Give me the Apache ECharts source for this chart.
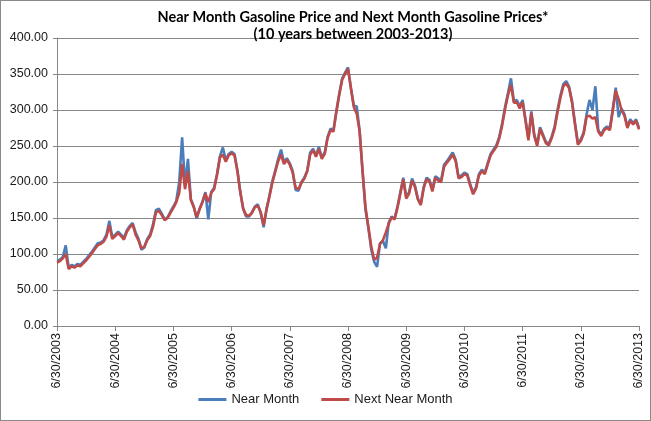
<!DOCTYPE html>
<html>
<head>
<meta charset="utf-8">
<script src="https://cdn.jsdelivr.net/npm/echarts@6/dist/echarts.min.js"></script>
<style>
  html, body { margin: 0; padding: 0; background: #fff; }
  #chart { width: 649px; height: 419px; border: 1px solid #8a8a8a; }
</style>
</head>
<body>
<div id="chart"></div>
<script>
// Sampling step between points, in months (points run from 6/30/2003 to 6/30/2013)
const STEP_MONTHS = 0.6;

const tickLabels = ['6/30/2003','6/30/2004','6/30/2005','6/30/2006','6/30/2007','6/30/2008',
                    '6/30/2009','6/30/2010','6/30/2011','6/30/2012','6/30/2013'];

const seriesNames = ['Near Month', 'Next Near Month'];

const nearMonth = [
  91,92,96,112,81,85,83,86,85,89,93,98,103,109,115,116,119,127,146,123,
  127,131,127,122,133,139,143,130,121,106,109,121,127,141,161,163,156,148,151,159,
  166,174,200,262,195,232,176,166,149,163,173,186,148,186,192,211,236,248,230,239,
  242,239,216,185,162,152,152,158,166,169,157,137,163,181,201,216,232,245,227,233,
  226,215,189,188,200,206,216,241,246,237,249,234,241,263,274,272,299,323,344,352,
  359,331,306,305,271,214,162,136,106,89,82,115,118,108,144,152,149,166,186,206,
  179,186,205,195,177,169,193,206,203,189,208,205,202,224,229,235,241,231,207,209,
  213,211,197,185,193,211,217,213,226,239,245,251,263,282,305,324,344,312,314,305,
  314,287,260,298,266,252,276,266,256,253,263,277,300,320,336,340,332,312,282,254,
  259,269,294,314,300,333,272,266,274,277,275,302,331,290,302,294,277,287,282,287,275
];

const nextNearMonth = [
  88,90,94,100,79,83,81,84,83,87,91,96,101,107,112,114,117,124,140,121,
  125,129,125,120,131,137,141,127,119,108,110,119,125,138,158,160,154,147,150,157,
  164,172,185,225,190,215,175,165,151,162,172,184,172,185,190,210,234,238,228,237,
  240,237,215,186,163,154,153,157,165,167,158,140,161,180,199,214,229,238,225,231,
  224,213,192,190,199,205,215,238,244,235,246,232,239,261,272,270,297,321,342,350,
  357,330,304,295,270,216,165,138,110,92,95,114,119,130,142,151,148,164,184,204,
  177,184,202,193,176,168,191,204,201,187,206,202,200,221,227,232,238,229,205,207,
  211,209,195,183,191,209,215,211,224,237,243,249,261,279,302,321,335,310,311,302,
  311,285,258,296,264,250,274,264,254,251,261,274,297,317,333,337,330,310,280,252,
  257,267,291,292,288,290,270,264,272,275,272,299,327,315,300,292,275,285,280,285,273
];

const chart = echarts.init(document.getElementById('chart'));
const axisGray = '#868686';
const txt = '#1a1a1a';

chart.setOption({
  animation: false,
  backgroundColor: '#fff',
  title: {
    text: 'Near Month Gasoline Price and Next Month Gasoline Prices*\n(10 years between 2003-2013)',
    left: 347,
    top: 3,
    textAlign: 'center',
    textStyle: { fontFamily: 'Lato', fontWeight: 'bold', fontSize: 14.5, lineHeight: 17, color: '#000' }
  },
  legend: {
    bottom: 9,
    left: 'center',
    icon: 'rect',
    itemWidth: 28,
    itemHeight: 3,
    itemGap: 22,
    textStyle: { fontFamily: 'Liberation Sans', fontSize: 13, color: txt },
    data: seriesNames
  },
  grid: { left: 56, right: 11, top: 37, bottom: 94, containLabel: false },
  xAxis: {
    type: 'value',
    min: 0,
    max: 120,
    interval: 12,
    axisLine: { lineStyle: { color: axisGray, width: 1 } },
    axisTick: { show: true, length: 5, lineStyle: { color: axisGray } },
    splitLine: { show: false },
    axisLabel: {
      rotate: 90,
      margin: 7,
      fontFamily: 'Liberation Sans',
      fontSize: 12.5,
      color: txt,
      formatter: v => tickLabels[Math.round(v / 12)]
    }
  },
  yAxis: {
    type: 'value',
    min: 0,
    max: 400,
    interval: 50,
    axisLine: { show: true, lineStyle: { color: axisGray, width: 1 } },
    axisTick: { show: true, length: 4, lineStyle: { color: axisGray } },
    splitLine: { lineStyle: { color: axisGray, width: 1 } },
    axisLabel: {
      margin: 9,
      fontFamily: 'Liberation Sans',
      fontSize: 12.5,
      color: txt,
      formatter: v => v.toFixed(2)
    }
  },
  series: [
    {
      name: seriesNames[0],
      type: 'line',
      symbol: 'none',
      color: '#4A7EBB',
      lineStyle: { width: 2.6, color: '#4A7EBB' },
      data: nearMonth.map((v, i) => [i * STEP_MONTHS, v])
    },
    {
      name: seriesNames[1],
      type: 'line',
      symbol: 'none',
      color: '#BE4B48',
      lineStyle: { width: 2.6, color: '#BE4B48' },
      data: nextNearMonth.map((v, i) => [i * STEP_MONTHS, v])
    }
  ]
});
</script>
</body>
</html>
